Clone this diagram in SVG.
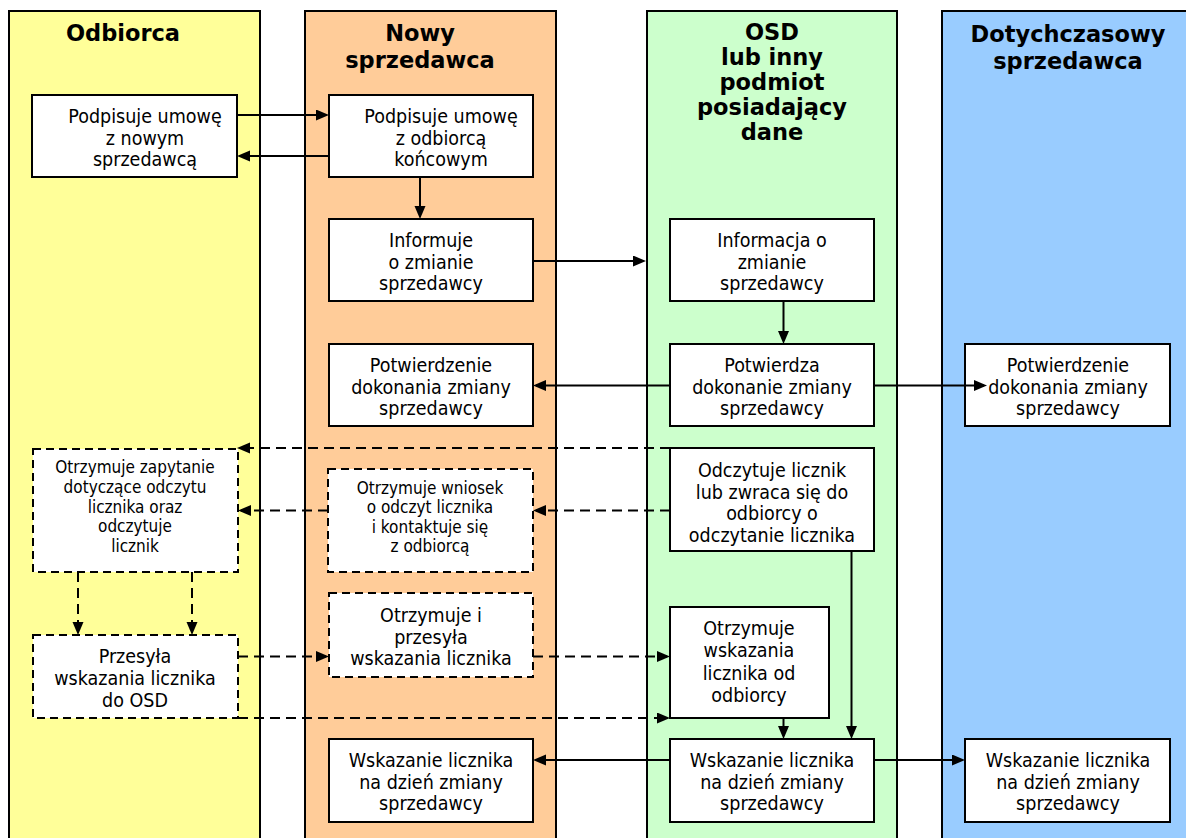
<svg xmlns="http://www.w3.org/2000/svg" width="1186" height="838" viewBox="0 0 1186 838">
  <style>
    .lane { stroke: #000; stroke-width: 2; }
    .box { fill: #fff; stroke: #000; stroke-width: 2; }
    .dbox { fill: #fff; stroke: #000; stroke-width: 2; stroke-dasharray: 8 5; }
    .h { font-family: "DejaVu Sans", Verdana, sans-serif; font-weight: bold; font-size: 22.5px; text-anchor: middle; fill: #000; }
    .t { font-family: "DejaVu Sans Condensed", "DejaVu Sans", sans-serif; font-stretch: condensed; font-size: 19.5px; text-anchor: middle; fill: #000; }
    .s { font-size: 17px; }
    .c { fill: none; stroke: #000; stroke-width: 2; marker-end: url(#ah); }
    .d { stroke-dasharray: 10 6; }
  </style>
  <defs>
    <marker id="ah" markerUnits="userSpaceOnUse" markerWidth="14" markerHeight="12" refX="10" refY="5.5" orient="auto">
      <path d="M0,0 L13,5.5 L0,11 Z" fill="#000"/>
    </marker>
    <clipPath id="clipRead">
      <rect x="670" y="448" width="204" height="98"/>
    </clipPath>
  </defs>

  <!-- swimlanes -->
  <g id="lane-odbiorca">
    <rect class="lane" x="9" y="11" width="251" height="840" fill="#ffff99"/>
    <text class="h" x="123" y="41">Odbiorca</text>
  </g>
  <g id="lane-nowy">
    <rect class="lane" x="305" y="11" width="251" height="840" fill="#ffcc99"/>
    <text class="h"><tspan x="420" y="41">Nowy</tspan><tspan x="420" y="68">sprzedawca</tspan></text>
  </g>
  <g id="lane-osd">
    <rect class="lane" x="647" y="11" width="250" height="840" fill="#ccffcc"/>
    <text class="h"><tspan x="772" y="40">OSD</tspan><tspan x="772" y="65">lub inny</tspan><tspan x="772" y="90">podmiot</tspan><tspan x="772" y="115">posiadający</tspan><tspan x="772" y="140">dane</tspan></text>
  </g>
  <g id="lane-dotychczasowy">
    <rect class="lane" x="942" y="11" width="270" height="840" fill="#99ccff"/>
    <text class="h"><tspan x="1068" y="42">Dotychczasowy</tspan><tspan x="1068" y="69">sprzedawca</tspan></text>
  </g>

  <!-- steps -->
  <g id="odb-umowa">
    <rect class="box" x="32" y="95" width="205" height="82"/>
    <text class="t"><tspan x="145" y="123">Podpisuje umowę</tspan><tspan x="145" y="144.5">z nowym</tspan><tspan x="145" y="166">sprzedawcą</tspan></text>
  </g>
  <g id="nowy-umowa">
    <rect class="box" x="329" y="95" width="204" height="82"/>
    <text class="t"><tspan x="441" y="123">Podpisuje umowę</tspan><tspan x="441" y="144.5">z odbiorcą</tspan><tspan x="441" y="166">końcowym</tspan></text>
  </g>
  <g id="nowy-informuje">
    <rect class="box" x="329" y="219" width="204" height="82"/>
    <text class="t"><tspan x="431" y="247">Informuje</tspan><tspan x="431" y="268.5">o zmianie</tspan><tspan x="431" y="290">sprzedawcy</tspan></text>
  </g>
  <g id="osd-informacja">
    <rect class="box" x="670" y="219" width="204" height="82"/>
    <text class="t"><tspan x="772" y="247">Informacja o</tspan><tspan x="772" y="268.5">zmianie</tspan><tspan x="772" y="290">sprzedawcy</tspan></text>
  </g>
  <g id="nowy-potwierdzenie">
    <rect class="box" x="329" y="344" width="204" height="82"/>
    <text class="t"><tspan x="431" y="372">Potwierdzenie</tspan><tspan x="431" y="393.5">dokonania zmiany</tspan><tspan x="431" y="415">sprzedawcy</tspan></text>
  </g>
  <g id="osd-potwierdza">
    <rect class="box" x="670" y="344" width="204" height="82"/>
    <text class="t"><tspan x="772" y="372">Potwierdza</tspan><tspan x="772" y="393.5">dokonanie zmiany</tspan><tspan x="772" y="415">sprzedawcy</tspan></text>
  </g>
  <g id="dot-potwierdzenie">
    <rect class="box" x="965" y="344" width="205" height="82"/>
    <text class="t"><tspan x="1068" y="372">Potwierdzenie</tspan><tspan x="1068" y="393.5">dokonania zmiany</tspan><tspan x="1068" y="415">sprzedawcy</tspan></text>
  </g>
  <g id="odb-zapytanie">
    <rect class="dbox" x="33" y="449" width="205" height="123"/>
    <text class="t s"><tspan x="135" y="473">Otrzymuje zapytanie</tspan><tspan x="135" y="493">dotyczące odczytu</tspan><tspan x="135" y="512.5">licznika oraz</tspan><tspan x="135" y="532">odczytuje</tspan><tspan x="135" y="551.5">licznik</tspan></text>
  </g>
  <g id="nowy-wniosek">
    <rect class="dbox" x="328" y="469" width="205" height="103"/>
    <text class="t s"><tspan x="430" y="493.5">Otrzymuje wniosek</tspan><tspan x="430" y="513">o odczyt licznika</tspan><tspan x="430" y="532.5">i kontaktuje się</tspan><tspan x="430" y="552">z odbiorcą</tspan></text>
  </g>
  <g id="osd-odczyt">
    <rect class="box" x="670" y="448" width="204" height="103"/>
    <text class="t" clip-path="url(#clipRead)"><tspan x="772" y="477">Odczytuje licznik</tspan><tspan x="772" y="498.5">lub zwraca się do</tspan><tspan x="772" y="520">odbiorcy o</tspan><tspan x="772" y="541.5">odczytanie licznika</tspan></text>
  </g>
  <g id="nowy-przesyla">
    <rect class="dbox" x="329" y="593" width="204" height="84"/>
    <text class="t"><tspan x="431" y="622">Otrzymuje i</tspan><tspan x="431" y="643.5">przesyła</tspan><tspan x="431" y="665">wskazania licznika</tspan></text>
  </g>
  <g id="odb-przesyla">
    <rect class="dbox" x="33" y="635" width="205" height="83"/>
    <text class="t"><tspan x="135" y="663">Przesyła</tspan><tspan x="135" y="685">wskazania licznika</tspan><tspan x="135" y="707">do OSD</tspan></text>
  </g>
  <g id="osd-otrzymuje">
    <rect class="box" x="670" y="607" width="159" height="111"/>
    <text class="t"><tspan x="749" y="635">Otrzymuje</tspan><tspan x="749" y="657">wskazania</tspan><tspan x="749" y="679.5">licznika od</tspan><tspan x="749" y="701.5">odbiorcy</tspan></text>
  </g>
  <g id="nowy-wskazanie">
    <rect class="box" x="329" y="739" width="204" height="83"/>
    <text class="t"><tspan x="431" y="767">Wskazanie licznika</tspan><tspan x="431" y="788.5">na dzień zmiany</tspan><tspan x="431" y="810">sprzedawcy</tspan></text>
  </g>
  <g id="osd-wskazanie">
    <rect class="box" x="670" y="739" width="204" height="83"/>
    <text class="t"><tspan x="772" y="767">Wskazanie licznika</tspan><tspan x="772" y="788.5">na dzień zmiany</tspan><tspan x="772" y="810">sprzedawcy</tspan></text>
  </g>
  <g id="dot-wskazanie">
    <rect class="box" x="965" y="739" width="205" height="83"/>
    <text class="t"><tspan x="1068" y="767">Wskazanie licznika</tspan><tspan x="1068" y="788.5">na dzień zmiany</tspan><tspan x="1068" y="810">sprzedawcy</tspan></text>
  </g>

  <!-- connectors (line ends 3px short of the arrow tip) -->
  <g id="connectors">
    <path class="c" d="M237,115 H326"/>
    <path class="c" d="M329,156 H240"/>
    <path class="c" d="M420,177 V216"/>
    <path class="c" d="M533,261 H643"/>
    <path class="c" d="M783.5,301 V341"/>
    <path class="c" d="M670,385.5 H536"/>
    <path class="c" d="M874,385.5 H984"/>
    <path class="c d" d="M670,448 H240"/>
    <path class="c d" d="M670,510.5 H536"/>
    <path class="c d" d="M328,510.5 H241"/>
    <path class="c d" d="M78,572 V632"/>
    <path class="c d" d="M192,572 V632"/>
    <path class="c d" d="M238,656.5 H326"/>
    <path class="c d" d="M533,656.5 H667"/>
    <path class="c d" d="M238,718 H667"/>
    <path class="c" d="M783.5,718 V736"/>
    <path class="c" d="M851.5,551 V736"/>
    <path class="c" d="M670,760 H536"/>
    <path class="c" d="M874,760 H962"/>
  </g>
</svg>
